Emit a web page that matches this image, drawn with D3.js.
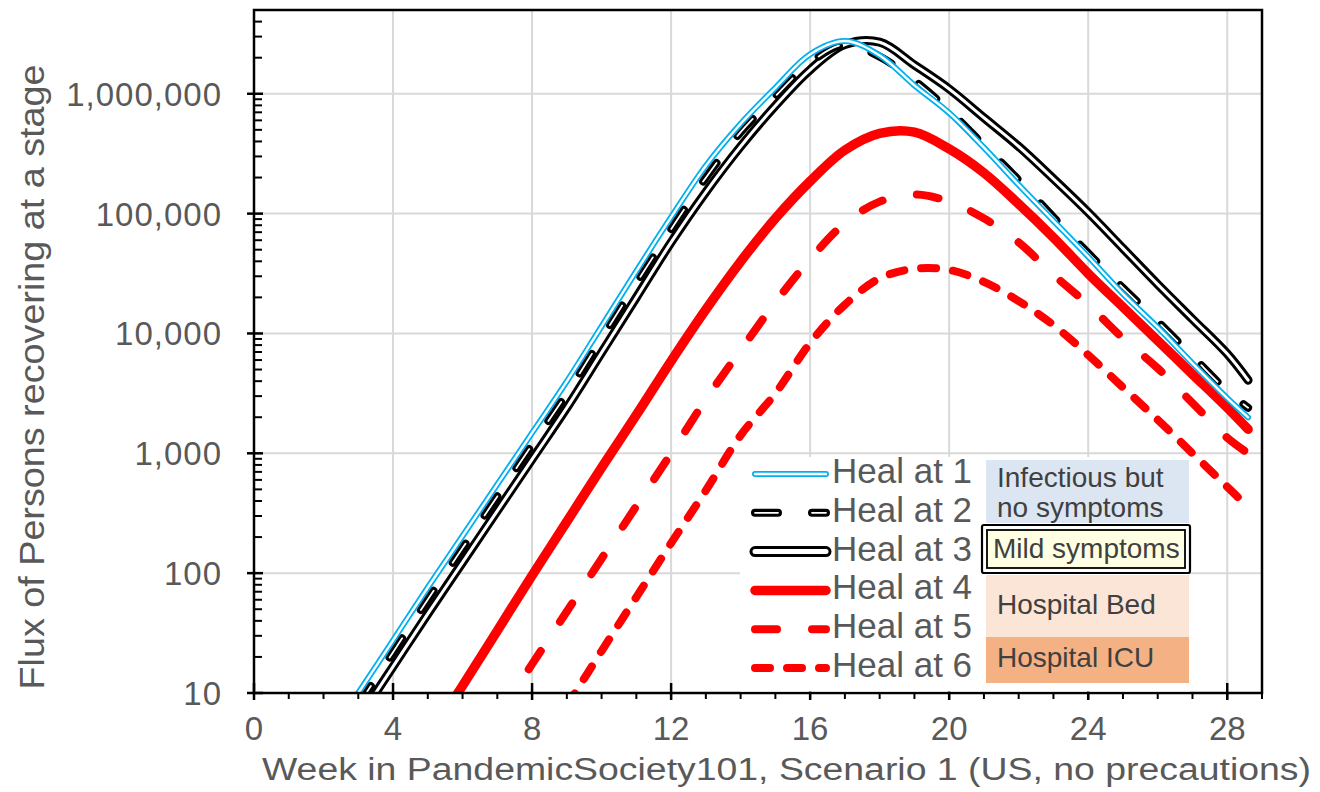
<!DOCTYPE html>
<html><head><meta charset="utf-8">
<script src="https://cdn.jsdelivr.net/npm/d3@7"></script>
<style>body{margin:0;background:#fff}svg{display:block}text{font-family:"Liberation Sans",Arial,sans-serif}</style>
</head><body><svg id="c" width="1320" height="792"></svg>
<script>
// ---- data ----
const weeks = [3,4,5,6,7,8,9,10,11,12,13,14,15,16,17,18,19,20,21,22,23,24,25,26,27,28,28.6];
const heal1 = [10,27.5,75.9,204,550,1479,3981,11480,33110,93330,251200,562300,1122000,2138000,2754000,2089000,1175000,691800,354800,173800,87100,43650,21380,11220,5623,2884,1995];
const heal2 = [7.9,21.9,60.3,162,437,1175,3162,9120,26300,74130,199500,478600,955000,1820000,2570000,2042000,1288000,724400,371500,190500,93330,46770,23990,12590,6457,3311,2399];
const heal3 = [6.03,16.6,45.7,123,331,891,2399,6918,19950,57540,151400,363100,794300,1585000,2570000,2692000,1738000,1096000,631000,363100,195000,102300,51290,25700,13180,6761,4074];
const heal4 = [null,null,4.07,11.5,33.1,95.5,269,759,2089,5888,15850,39810,91200,186200,338800,467700,478600,346700,218800,120200,63100,31620,16600,8710,4571,2399,1585];
const heal5 = [null,null,null,null,6.31,17.4,47.9,132,363,1000,2818,7244,18200,41690,83180,125900,144500,125900,91200,57540,30900,17380,9120,5129,2630,1349,1000];
const heal6 = [null,null,null,null,null,null,7.76,22.4,63.1,178,490,1413,3162,8318,17380,28840,34670,33880,26920,18620,11750,6607,3548,1905,1000,525,355];
const seriesNames = ["Heal at 1","Heal at 2","Heal at 3","Heal at 4","Heal at 5","Heal at 6"];
const yTickValues = [10,100,1000,10000,100000,1000000];
const yTickLabels = ["10","100","1,000","10,000","100,000","1,000,000"];
const xTickValues = [0,4,8,12,16,20,24,28];
const xTitle = "Week in PandemicSociety101, Scenario 1 (US, no precautions)";
const yTitle = "Flux of Persons recovering at a stage";
const stageBoxes = [["Infectious but","no symptoms"],["Mild symptoms"],["Hospital Bed"],["Hospital ICU"]];

// ---- layout ----
const L=254, R=1262, T=10, B=693;
const x = d3.scaleLinear().domain([0,29]).range([L,R]);
const y = d3.scaleLog().domain([10,5e6]).range([B,T]);
const svg = d3.select("#c");
const grey = "#595959";

// grid
const g = svg.append("g");
g.selectAll(".vg").data(xTickValues.filter(d=>d>0)).join("line")
  .attr("x1",d=>x(d)).attr("x2",d=>x(d)).attr("y1",T).attr("y2",B)
  .attr("stroke","#d9d9d9").attr("stroke-width",2);
g.selectAll(".hg").data(yTickValues.filter(d=>d>10)).join("line")
  .attr("x1",L).attr("x2",R).attr("y1",d=>y(d)).attr("y2",d=>y(d))
  .attr("stroke","#d9d9d9").attr("stroke-width",2);

// lines
svg.append("clipPath").attr("id","clip").append("rect")
  .attr("x",L).attr("y",T).attr("width",R-L).attr("height",B-T);
const plot = svg.append("g").attr("clip-path","url(#clip)");
const line = d3.line().defined(d=>d[1]!=null).x(d=>x(d[0])).y(d=>y(d[1])).curve(d3.curveCatmullRom.alpha(0.5));
const pts = arr => weeks.map((w,i)=>[w,arr[i]]);

const styles = [
  {data:heal1, layers:[{c:"#00b0f0",w:6},{c:"#fff",w:2.4}]},
  {data:heal2, layers:[{c:"#000",w:8,dash:"23,34"},{c:"#fff",w:1.8,dash:"23,34"}]},
  {data:heal3, layers:[{c:"#000",w:9},{c:"#fff",w:3}]},
  {data:heal4, layers:[{c:"#ff0000",w:9.5}]},
  {data:heal5, layers:[{c:"#ff0000",w:8,dash:"22,35"}]},
  {data:heal6, layers:[{c:"#ff0000",w:8,dash:"15,17"}]}
];
// draw series 6 first so series 1 ends on top
styles.slice().reverse().forEach(s=>{
  s.layers.forEach(l=>{
    plot.append("path").datum(pts(s.data)).attr("d",line)
      .attr("fill","none").attr("stroke",l.c).attr("stroke-width",l.w)
      .attr("stroke-linecap","round").attr("stroke-linejoin","round")
      .attr("stroke-dasharray",l.dash||null);
  });
});

// frame & axes
svg.append("rect").attr("x",L).attr("y",T).attr("width",R-L).attr("height",B-T)
  .attr("fill","none").attr("stroke","#000").attr("stroke-width",2.5);
const minor = [];
yTickValues.forEach(d=>{ for(let k=2;k<=9;k++){ if(k*d<=5e6) minor.push(k*d);} });
svg.selectAll(".ymin").data(minor).join("line")
  .attr("x1",L).attr("x2",L+8).attr("y1",d=>y(d)).attr("y2",d=>y(d))
  .attr("stroke","#000").attr("stroke-width",2);
svg.selectAll(".ymaj").data(yTickValues).join("line")
  .attr("x1",L-7).attr("x2",L+9).attr("y1",d=>y(d)).attr("y2",d=>y(d))
  .attr("stroke","#000").attr("stroke-width",2.5);
svg.selectAll(".ylab").data(yTickValues).join("text")
  .attr("x",222).attr("y",d=>y(d)+12).attr("text-anchor","end")
  .attr("font-size",33).attr("letter-spacing",1).attr("fill",grey)
  .text((d,i)=>yTickLabels[i]);
svg.selectAll(".xmin").data(d3.range(0,30)).join("line")
  .attr("x1",d=>x(d)).attr("x2",d=>x(d)).attr("y1",B).attr("y2",B+6)
  .attr("stroke","#000").attr("stroke-width",2);
svg.selectAll(".xmaj").data(xTickValues).join("line")
  .attr("x1",d=>x(d)).attr("x2",d=>x(d)).attr("y1",B-10).attr("y2",B+7)
  .attr("stroke","#000").attr("stroke-width",2.5);
svg.selectAll(".xlab").data(xTickValues).join("text")
  .attr("x",d=>x(d)).attr("y",740).attr("text-anchor","middle")
  .attr("font-size",33).attr("fill",grey).text(d=>d);

// titles
svg.append("text").attr("x",262).attr("y",780).attr("font-size",31).attr("fill",grey)
  .attr("textLength",1049).attr("lengthAdjust","spacingAndGlyphs").text(xTitle);
svg.append("text").attr("transform","translate(44,377) rotate(-90)").attr("text-anchor","middle")
  .attr("font-size",35).attr("fill",grey)
  .attr("textLength",625).attr("lengthAdjust","spacingAndGlyphs").text(yTitle);

// legend
const lg = svg.append("g");
lg.append("rect").attr("x",740).attr("y",457).attr("width",450).attr("height",B-457-1.5).attr("fill","#fff");
styles.forEach((s,i)=>{
  const yy = 474 + i*38.8;
  s.layers.forEach(l=>{
    lg.append("line").attr("x1",755).attr("x2",826).attr("y1",yy).attr("y2",yy)
      .attr("stroke",l.c).attr("stroke-width",i===2?(l.w+2):l.w).attr("stroke-linecap","round")
      .attr("stroke-dasharray",l.dash||null);
  });
  lg.append("text").attr("x",832).attr("y",yy+9).attr("font-size",35).attr("fill",grey).text(seriesNames[i]);
});

// stage boxes
const bx = 986, bw = 203, boxText = "#404040";
lg.append("rect").attr("x",bx).attr("y",460).attr("width",bw).attr("height",63).attr("fill","#dce6f2");
lg.append("text").attr("x",997).attr("y",487).attr("font-size",28).attr("fill",boxText).text(stageBoxes[0][0]);
lg.append("text").attr("x",997).attr("y",517).attr("font-size",28).attr("fill",boxText).text(stageBoxes[0][1]);
lg.append("rect").attr("x",982).attr("y",525).attr("width",208).attr("height",48).attr("rx",2)
  .attr("fill","#fff").attr("stroke","#000").attr("stroke-width",2.2);
lg.append("rect").attr("x",987).attr("y",530).attr("width",198).attr("height",38)
  .attr("fill","#ffffe3").attr("stroke","#000").attr("stroke-width",1.8);
lg.append("text").attr("x",993).attr("y",558).attr("font-size",28).attr("fill",boxText).text(stageBoxes[1][0]);
lg.append("rect").attr("x",bx).attr("y",575).attr("width",bw).attr("height",62).attr("fill","#fbe5d6");
lg.append("text").attr("x",997).attr("y",614).attr("font-size",28).attr("fill",boxText).text(stageBoxes[2][0]);
lg.append("rect").attr("x",bx).attr("y",637).attr("width",bw).attr("height",46).attr("fill","#f4b183");
lg.append("text").attr("x",997).attr("y",667).attr("font-size",28).attr("fill",boxText).text(stageBoxes[3][0]);
</script></body></html>
